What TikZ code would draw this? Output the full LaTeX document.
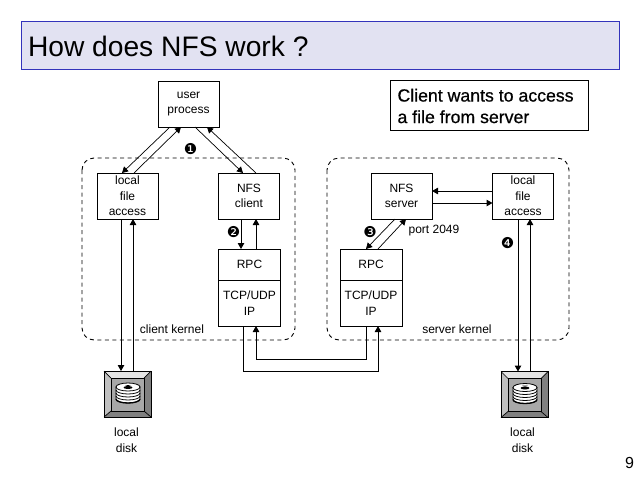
\documentclass[tikz,border=0pt]{standalone}
\usepackage{fontspec}
\setmainfont{Liberation Sans}
\newfontfamily\bulletfont{DejaVu Sans}
\newfontfamily\boldishfont[FakeBold=0.6]{Liberation Sans}
\usetikzlibrary{arrows.meta}
\definecolor{titlefill}{HTML}{E2E2F2}
\definecolor{titleedge}{HTML}{3333BB}
\definecolor{bevlight}{HTML}{E4E4E4}
\definecolor{bevmid}{HTML}{C0C0C0}
\definecolor{bevdark}{HTML}{808080}
\definecolor{bevcore}{HTML}{A8A8A8}
\tikzset{
  x=1pt,y=-1pt,
  every node/.style={inner sep=0pt,outer sep=0pt},
  lab/.style={font=\fontsize{12}{15.5}\selectfont,align=center},
  boxnode/.style={lab,draw=black,line width=1pt,fill=white,minimum width=61pt,minimum height=46pt},
  rpcnode/.style={boxnode,minimum width=62pt,minimum height=31pt},
  tcpnode/.style={boxnode,minimum width=62pt,minimum height=46pt},
  kerneldom/.style={draw=black,line width=0.9pt,dash pattern=on 4pt off 3.5pt,rounded corners=12pt},
  arr/.style={line width=1pt,-{Triangle[width=6.5pt,length=6pt]}},
  thinarr/.style={line width=0.7pt,-{Triangle[width=6.5pt,length=6pt]}},
  bulletmark/.style={font=\bulletfont\fontsize{15}{15}\selectfont},
  diskbox/.style={draw=black,line width=1pt,minimum width=47pt,minimum height=46pt},
  pics/diskicon/.style={code={
    % (0,0) is the top left corner of the icon
    \fill[bevlight] (0,0)--(47,0)--(40,7)--(7,7)--(7,40)--(0,46)--cycle;
    \fill[bevdark] (47,0)--(47,46)--(0,46)--(7,40)--(40,40)--(40,7)--cycle;
    \fill[bevmid] (0,0)--(7,7)--(7,40)--(0,46)--cycle;
    \draw[line width=0.7pt] (0,0)--(7,7) (47,0)--(40,7) (0,46)--(7,40) (47,46)--(40,40);
    \draw[line width=1pt,fill=bevcore] (7,7) rectangle (40,40);
    \draw[line width=0.8pt,fill=white] (12,16) -- (12,28) arc[start angle=180,end angle=360,x radius=12,y radius=-4] -- (36,16) -- cycle;
    \foreach \d in {3,6,9}{\draw[line width=0.8pt] (12,16+\d) arc[start angle=180,end angle=360,x radius=12,y radius=-4];}
    \draw[line width=0.8pt,fill=white] (24,16) ellipse[x radius=12,y radius=4];
    \fill (24,16.5) ellipse[x radius=4.5,y radius=1.5];
    \fill (24,15) -- (21,14) -- (27,14) -- cycle;
    \draw[line width=1.3pt] (12,28) arc[start angle=180,end angle=360,x radius=12,y radius=-4];
  }},
}
\begin{document}
\begin{tikzpicture}
\useasboundingbox (0,0) rectangle (640,480);
\fill[white] (0,0) rectangle (640,480);
% title band
\node[draw=titleedge,line width=1pt,fill=titlefill,minimum width=598pt,minimum height=48pt] (band) at (320,45) {};
\node[anchor=west,font=\fontsize{28.2}{30}\selectfont] (title) at (28,46.5) {How does NFS work ?};
% note
\node[draw=black,line width=1pt,minimum width=198pt,minimum height=50pt] (notebox) at (489,105) {};
\node[anchor=west,font=\boldishfont\fontsize{17.7}{21.5}\selectfont,align=left] (note) at (397.5,106) {Client wants to access\\a file from server};
% kernel domains
\draw[kerneldom] (82,158) rectangle (295,340);
\draw[kerneldom] (327,158) rectangle (569,340);
% boxes
\node[boxnode] (user) at (188.5,104) {user\\process};
\node[boxnode] (lfa) at (127.5,196) {local\\file\\access};
\node[boxnode] (ncl) at (249,196) {NFS\\client};
\node[rpcnode] (crpc) at (249.5,264.5) {RPC};
\node[tcpnode] (ctcp) at (249.5,303) {TCP/UDP\\IP};
\node[boxnode] (nsv) at (401.5,196) {NFS\\server};
\node[boxnode] (slf) at (523,196) {local\\file\\access};
\node[rpcnode] (srpc) at (371,264.5) {RPC};
\node[tcpnode] (stcp) at (371,303) {TCP/UDP\\IP};
% disks
\node[diskbox] (d1) at (127.5,394) {};
\pic at (104,371) {diskicon};
\draw[line width=1pt] (104,371) rectangle (151,417);
\node[diskbox] (d2) at (524.5,394.5) {};
\pic at (501,371.5) {diskicon};
\draw[line width=1pt] (501,371.5) rectangle (548,417.5);
% user <-> kernel
\draw[thinarr] ([xshift=-18.5pt]user.south) -- ([xshift=-5.5pt]lfa.north);
\draw[thinarr] ([xshift=6.5pt]lfa.north) -- ([xshift=-7.5pt]user.south);
\draw[thinarr] ([xshift=6.5pt]user.south) -- ([xshift=-6pt]ncl.north);
\draw[thinarr] ([xshift=7pt]ncl.north) -- ([xshift=18.5pt]user.south);
% client verticals
\draw[arr] ([xshift=-6.5pt]lfa.south) -- ([xshift=-6.5pt]d1.north);
\draw[arr] ([xshift=5.5pt]d1.north) -- ([xshift=5.5pt]lfa.south);
\draw[arr] ([xshift=-8pt]ncl.south) -- ([xshift=-8.5pt]crpc.north);
\draw[arr] ([xshift=6.5pt]crpc.north) -- ([xshift=7pt]ncl.south);
% network
\draw[arr] ([xshift=-6.5pt]ctcp.south) -- ++(0,45) -| ([xshift=7pt]stcp.south);
\draw[arr] ([xshift=-5pt]stcp.south) -- ++(0,33) -| ([xshift=6.5pt]ctcp.south);
% server
\draw[thinarr] ([xshift=-6.5pt]nsv.south) -- ([xshift=-5pt]srpc.north);
\draw[thinarr] ([xshift=7pt]srpc.north) -- ([xshift=4.5pt]nsv.south);
\draw[arr] ([yshift=5pt]slf.west) -- ([yshift=5pt]nsv.east);
\draw[arr] ([yshift=-7pt]nsv.east) -- ([yshift=-7pt]slf.west);
\draw[arr] ([xshift=-5pt]slf.south) -- ([xshift=-6.5pt]d2.north);
\draw[arr] ([xshift=5.5pt]d2.north) -- ([xshift=7pt]slf.south);
% labels
\node[lab] (cker) at (172,329.5) {client kernel};
\node[lab] (sker) at (457,329.5) {server kernel};
\node[lab] (port) at (434,230.5) {port 2049};
\node[lab] (dl1) at (126.5,440) {local\\disk};
\node[lab] (dl2) at (522.5,440) {local\\disk};
\node[bulletmark] (b1) at (190.5,149.5) {❶};
\node[bulletmark] (b2) at (233.5,232.5) {❷};
\node[bulletmark] (b3) at (370,232.5) {❸};
\node[bulletmark] (b4) at (507.5,243.5) {❹};
\node[font=\fontsize{16}{16}\selectfont] (pageno) at (629.5,462.5) {9};
\end{tikzpicture}
\end{document}
